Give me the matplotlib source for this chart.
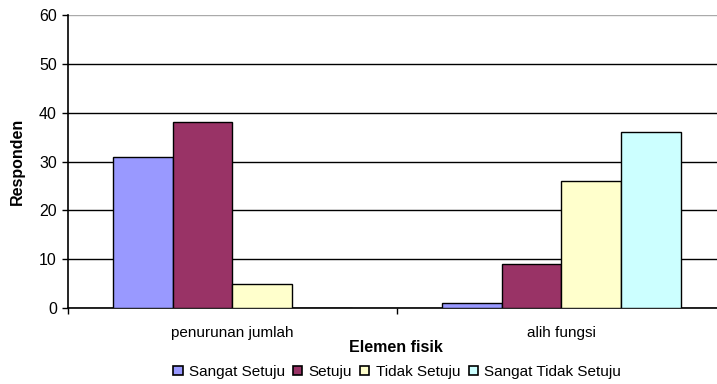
import matplotlib
matplotlib.use("Agg")
import matplotlib.pyplot as plt
from matplotlib.patches import Patch
import numpy as np

plt.rcParams['font.family'] = ['Liberation Sans', 'DejaVu Sans']

categories = ["penurunan jumlah", "alih fungsi"]
series_names = ["Sangat Setuju", "Setuju", "Tidak Setuju", "Sangat Tidak Setuju"]
sangat_setuju = [31, 1]
setuju = [38, 9]
tidak_setuju = [5, 26]
sangat_tidak_setuju = [0, 36]
y_ticks = [0, 10, 20, 30, 40, 50, 60]

series_values = [sangat_setuju, setuju, tidak_setuju, sangat_tidak_setuju]
colors = ["#9999FF", "#993366", "#FFFFCC", "#CCFFFF"]

fig = plt.figure(figsize=(7.17, 3.84), dpi=100)
ax = fig.add_axes([68 / 717, 1 - 308 / 384, (726 - 68) / 717, (308 - 15) / 384])

x = np.arange(len(categories))
bar_w = 0.182
offsets = (np.arange(len(series_names)) - 1.5) * bar_w
for vals, off, col in zip(series_values, offsets, colors):
    ax.bar(x + off, vals, width=bar_w, color=col, edgecolor="black",
           linewidth=1.0, zorder=3)

ax.set_xlim(-0.5, len(categories) - 0.5)
ax.set_ylim(0, 60)
ax.set_yticks(y_ticks)
ax.yaxis.grid(True, color="black", linewidth=1.0, zorder=0)
ax.get_ygridlines()[-1].set_color("#aaaaaa")

ax.set_xticks(x)
ax.set_xticklabels(categories, fontsize=11)
ax.tick_params(axis="x", length=0, pad=13)
ax.set_xticks(np.arange(len(categories) + 1) - 0.5, minor=True)
ax.tick_params(axis="x", which="minor", length=4, width=1, color="black")
ax.tick_params(axis="y", labelsize=11.5, length=4, width=1, pad=4)

for s in ["top", "right"]:
    ax.spines[s].set_visible(False)
for s in ["left", "bottom"]:
    ax.spines[s].set_linewidth(1.2)
    ax.spines[s].set_color("black")

ax.set_ylabel("Responden", fontsize=11.5, fontweight="bold", labelpad=10)
fig.text(396 / 717, 1 - 347 / 384, "Elemen fisik", fontsize=11.5,
         fontweight="bold", ha="center", va="center")

handles = [Patch(facecolor=c, edgecolor="black", linewidth=1.2) for c in colors]
fig.legend(handles, series_names, loc="center", ncol=4,
           bbox_to_anchor=(397 / 717, 1 - 372 / 384), frameon=False,
           fontsize=11, handlelength=0.6, handleheight=0.6,
           handletextpad=0.4, columnspacing=0.55, borderpad=0)

fig.savefig("out.png", dpi=100)
